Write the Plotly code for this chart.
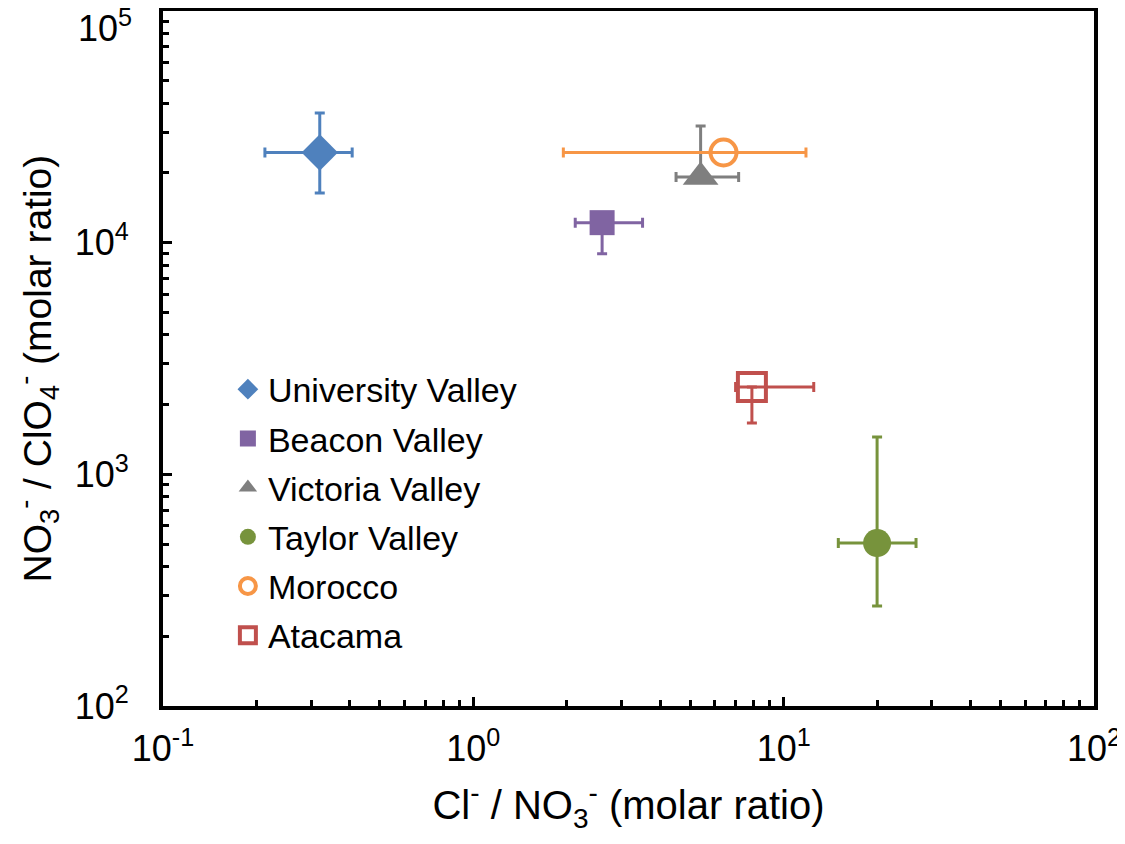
import plotly.graph_objects as go

names = ["University Valley", "Beacon Valley", "Victoria Valley", "Taylor Valley", "Morocco", "Atacama"]
x_vals = [0.32, 2.6, 5.4, 20.0, 6.4, 7.9]
y_vals = [24500, 12200, 19200, 505, 24500, 2380]
x_minus = [0.107, 0.47, 0.9, 5.0, 4.45, 0.9]
x_plus = [0.087, 0.91, 1.76, 6.7, 5.4, 4.6]
y_minus = [8100, 3250, 0, 235, 0, 715]
y_plus = [11800, 0, 12700, 945, 0, 0]
colors = ["#4f81bd", "#8064a2", "#7f7f7f", "#77933c", "#f79646", "#c0504d"]
symbols = ["diamond", "square", "triangle-up", "circle", "circle-open", "square-open"]
sizes = [28, 25, 31, 28, 26, 28]

x_tickvals = [0.1, 1, 10, 100]
x_ticktext = ["10<sup>-1</sup>", "10<sup>0</sup>", "10<sup>1</sup>", "10<sup>2</sup>"]
y_tickvals = [100, 1000, 10000, 100000]
y_ticktext = ["10<sup>2</sup>", "10<sup>3</sup>", "10<sup>4</sup>", ""]
top_label = "10<sup>5</sup>"
x_title = "Cl<sup>-</sup> / NO<sub>3</sub><sup>-</sup> (molar ratio)"
y_title = "NO<sub>3</sub><sup>-</sup> / ClO<sub>4</sub><sup>-</sup> (molar ratio)"
x_minor = [m * d for d in [0.1, 1, 10] for m in range(2, 10)]
y_minor = [m * d for d in [100, 1000, 10000] for m in range(2, 10)]

FONT = "Liberation Sans, Arial"

fig = go.Figure()
for i, n in enumerate(names):
    fig.add_trace(go.Scatter(
        x=[x_vals[i]], y=[y_vals[i]], name=n, mode="markers",
        legendgroup=n,
        marker=dict(symbol=symbols[i], size=sizes[i], color=colors[i],
                    line=dict(width=4 if "open" in symbols[i] else 0, color=colors[i])),
        error_x=dict(type="data", symmetric=False, array=[x_plus[i]], arrayminus=[x_minus[i]],
                     color=colors[i], thickness=3, width=5, visible=True),
        error_y=dict(type="data", symmetric=False, array=[y_plus[i]], arrayminus=[y_minus[i]],
                     color=colors[i], thickness=3, width=5, visible=True),
    ))

axis_common = dict(
    showline=True, linecolor="black", linewidth=4, mirror=True,
    ticks="inside", ticklen=9, tickwidth=3, tickcolor="black",
    showgrid=False, zeroline=False, automargin=False,
    tickfont=dict(family=FONT, size=36, color="black"),
)

fig.update_xaxes(type="log", range=[-1, 2], tickmode="array", tickvals=x_tickvals, ticktext=x_ticktext,
                 ticklabelstandoff=8,
                 minor=dict(tickmode="array", tickvals=x_minor, ticks="inside", ticklen=6, tickwidth=3, tickcolor="black", showgrid=False),
                 title=dict(text=x_title, font=dict(family=FONT, size=40, color="black"), standoff=24),
                 **axis_common)
fig.update_yaxes(type="log", range=[2, 5], tickmode="array", tickvals=y_tickvals, ticktext=y_ticktext,
                 ticklabelstandoff=23,
                 minor=dict(tickmode="array", tickvals=y_minor, ticks="inside", ticklen=6, tickwidth=3, tickcolor="black", showgrid=False),
                 **axis_common)

fig.add_annotation(x=0, y=0.5, xref="paper", yref="paper", text=y_title, showarrow=False,
                   textangle=-90, xanchor="center", yanchor="middle", xshift=-126, yshift=-10,
                   font=dict(family=FONT, size=39, color="black"))

fig.add_annotation(x=0, y=5, xref="paper", yref="y", text=top_label, showarrow=False,
                   xanchor="right", yanchor="middle", xshift=-29, yshift=-15,
                   font=dict(family=FONT, size=36, color="black"))

fig.update_layout(
    width=1117, height=836,
    margin=dict(l=155, r=31, t=3, b=138),
    plot_bgcolor="white", paper_bgcolor="white",
    showlegend=True,
    legend=dict(x=0.0697, y=0.497, xanchor="left", yanchor="top",
                font=dict(family=FONT, size=34, color="black"),
                bgcolor="rgba(0,0,0,0)", itemsizing="trace", tracegroupgap=2,
                traceorder="grouped"),
)

fig.write_html("out.html")
